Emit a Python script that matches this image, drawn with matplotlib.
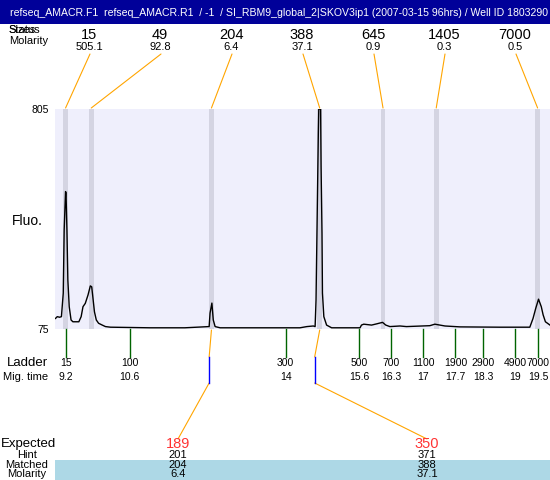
import matplotlib
matplotlib.use("Agg")
import matplotlib.pyplot as plt  # noqa: E402
from matplotlib import transforms  # noqa: E402
from matplotlib.patches import ConnectionPatch, Rectangle  # noqa: E402

plt.rcParams["font.family"] = ["Liberation Sans", "DejaVu Sans"]

TITLE = ("refseq_AMACR.F1  refseq_AMACR.R1  / -1  / SI_RBM9_global_2|SKOV3ip1 "
         "(2007-03-15 96hrs) / Well ID 1803290")

# electropherogram trace, migration time (s) vs fluorescence
trace_time = [8.98, 9.02, 9.07, 9.11, 9.15, 9.17, 9.20, 9.21, 9.23, 9.25, 9.28, 9.32,
              9.36, 9.49, 9.54, 9.58, 9.63, 9.69, 9.74, 9.77, 9.79, 9.83, 9.87, 9.92,
              10.00, 10.07, 10.18, 11.04, 11.80, 12.33, 12.35, 12.39, 12.42, 12.46,
              12.57, 14.09, 14.31, 14.46, 14.60, 14.64, 14.66, 14.69, 14.71, 14.72,
              14.76, 14.77, 14.79, 14.80, 14.83, 14.89, 15.00, 15.62, 15.65, 15.70,
              15.87, 15.98, 16.11, 16.18, 16.27, 16.49, 16.63, 17.14, 17.25, 17.36,
              17.47, 17.80, 18.67, 19.32, 19.39, 19.45, 19.51, 19.57, 19.61, 19.66,
              19.76]
trace_fluo = [110, 116, 114, 116, 194, 404, 531, 527, 404, 238, 149, 105,
              99, 99, 116, 149, 160, 188, 218, 215, 188, 132, 105, 94,
              88, 83, 81, 79, 79, 83, 128, 161, 105, 83,
              79, 79, 79, 83, 85, 83, 171, 503, 725, 805,
              805, 614, 394, 194, 116, 88, 79, 79, 88, 91,
              88, 92, 97, 88, 83, 85, 83, 86, 91, 88,
              85, 82, 81, 81, 110, 144, 174, 149, 122, 99,
              88]

# sample peaks
peak_time = [9.20, 9.76, 12.38, 14.74, 16.12, 17.28, 19.49]
peak_size = ["15", "49", "204", "388", "645", "1405", "7000"]
peak_molarity = ["505.1", "92.8", "6.4", "37.1", "0.9", "0.3", "0.5"]

# ladder
ladder_size = ["15", "100", "300", "500", "700", "1100", "1900", "2900", "4900", "7000"]
ladder_time = [9.2, 10.6, 14, 15.6, 16.3, 17, 17.7, 18.3, 19, 19.5]

# expected products
expected_size = ["189", "350"]
expected_time = [12.33, 14.63]
expected_peak = [2, 3]
hint_size = ["201", "371"]
matched_size = ["204", "388"]
matched_molarity = ["6.4", "37.1"]

W, H = 550, 480
BG = "#efeffc"
BAND = "#d4d4e2"
ORANGE = "#ffa500"
GREEN = "#006400"

fig = plt.figure(figsize=(W / 100, H / 100), dpi=100)
fig.patch.set_facecolor("white")

# main trace axes: pixel box 55..550 x 109..329
ax = fig.add_axes([55 / W, (H - 329) / H, 495 / W, 220 / H])
ax.set_facecolor(BG)
ax.set_xlim(8.97, 19.76)
ax.set_ylim(75, 805)
for s in ax.spines.values():
    s.set_visible(False)
ax.set_xticks([])
ax.set_yticks([75, 805])
ax.set_yticklabels(["75", "805"], fontsize=7.5)
ax.tick_params(axis="y", length=0, pad=4.5)
for t in peak_time:
    ax.axvspan(t - 0.05, t + 0.05, color=BAND, lw=0)
ax.plot(trace_time, trace_fluo, color="black", lw=1.0)

# overlay in top-down figure pixels
ov = fig.add_axes([0, 0, 1, 1], zorder=5)
ov.set_xlim(0, W)
ov.set_ylim(H, 0)
ov.axis("off")
ov.patch.set_visible(False)
blend = transforms.blended_transform_factory(ax.transData, ov.transData)

# title bar
ov.add_patch(Rectangle((0, 0), W, 24, color="#000099", lw=0))
ov.text(10, 13, TITLE, color="white", fontsize=7.6, va="center", ha="left")

# peak table on top (the two header words overprint, as in the source)
ov.text(8, 30, "Sizes", fontsize=8, va="center", ha="left")
ov.text(8, 30, "Status", fontsize=8, va="center", ha="left")
ov.text(9, 41, "Molarity", fontsize=8, va="center", ha="left")
for i, t in enumerate(peak_time):
    sx = 89 + 71 * i
    ov.text(sx, 35, peak_size[i], fontsize=10.5, ha="center", va="center")
    ov.text(sx, 46.5, peak_molarity[i], fontsize=8, ha="center", va="center")
    ov.add_artist(ConnectionPatch((sx + 1, 54), (t, 108), coordsA=ov.transData,
                                  coordsB=blend, color=ORANGE, lw=0.8))

ov.text(27, 221, "Fluo.", fontsize=10, ha="center", va="center")

# ladder
ov.text(27, 363, "Ladder", fontsize=9.5, ha="center", va="center")
ov.text(26, 377, "Mig. time", fontsize=8, ha="center", va="center")
for size, t in zip(ladder_size, ladder_time):
    ov.plot([t, t], [329, 357], color=GREEN, lw=1.0, transform=blend, clip_on=False)
    ov.text(t, 363, size, fontsize=7.5, ha="center", va="center", transform=blend)
    ov.text(t, 377, f"{t:g}", fontsize=7.5, ha="center", va="center", transform=blend)

# expected products table
ov.add_patch(Rectangle((54.5, 460), W - 54.5, 20, color="#add8e6", lw=0))
ov.text(1, 444, "Expected", fontsize=9.5, ha="left", va="center")
ov.text(27, 455, "Hint", fontsize=8, ha="center", va="center")
ov.text(27, 465, "Matched", fontsize=8, ha="center", va="center")
ov.text(27, 474, "Molarity", fontsize=8, ha="center", va="center")
for i, t in enumerate(expected_time):
    ex = 178 + 249 * i
    pt = peak_time[expected_peak[i]]
    ov.add_artist(ConnectionPatch((pt, 330), (t, 357), coordsA=blend, coordsB=blend,
                                  color=ORANGE, lw=0.8))
    ov.plot([t, t], [357, 383], color="blue", lw=1.0, transform=blend, clip_on=False)
    ov.add_artist(ConnectionPatch((t, 383), (ex, 439), coordsA=blend,
                                  coordsB=ov.transData, color=ORANGE, lw=0.8))
    ov.text(ex, 444, expected_size[i], fontsize=10.5, color="#ff3333",
            ha="center", va="center")
    ov.text(ex, 455, hint_size[i], fontsize=8, ha="center", va="center")
    ov.text(ex, 465, matched_size[i], fontsize=8, ha="center", va="center")
    ov.text(ex, 474, matched_molarity[i], fontsize=8, ha="center", va="center")

fig.savefig("out.png", dpi=100)
